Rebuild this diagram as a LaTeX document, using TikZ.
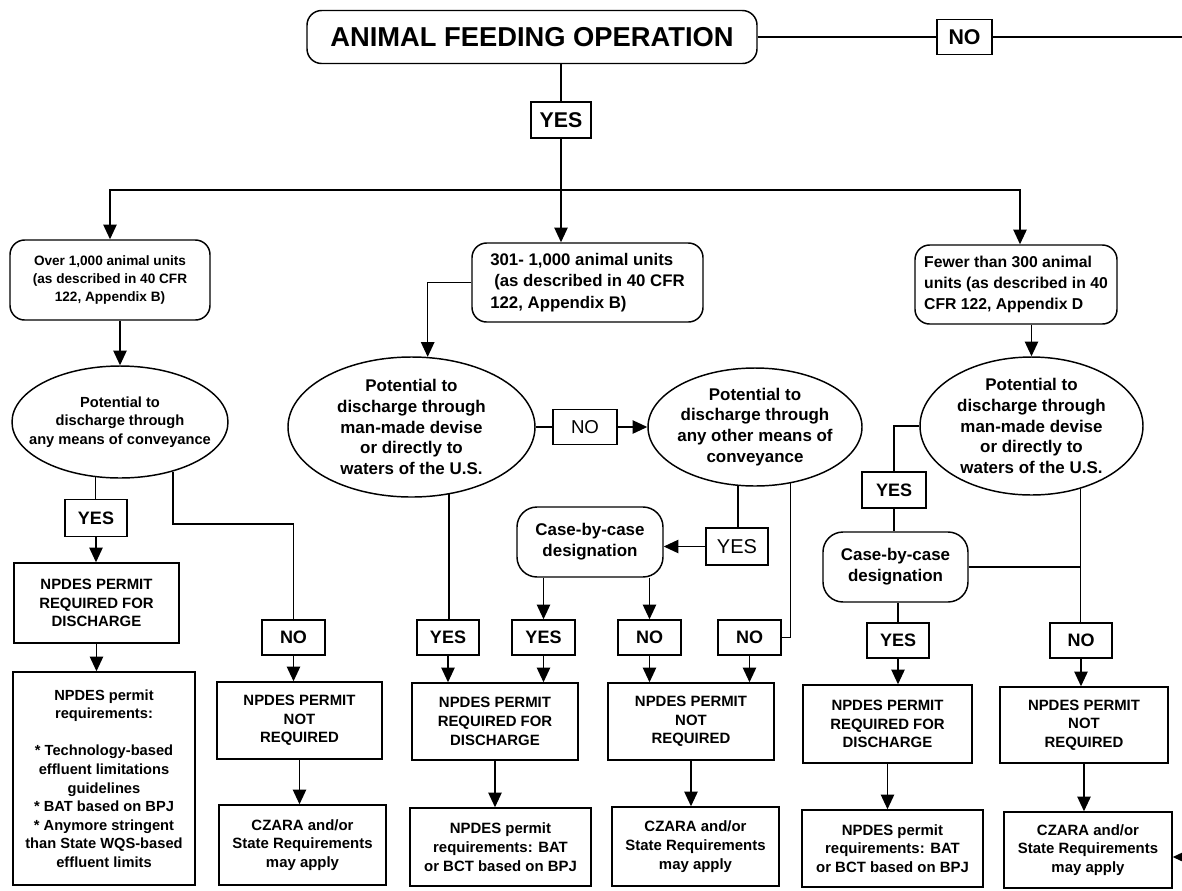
\documentclass[tikz,border=0pt]{standalone}
\usepackage{fontspec}
\setmainfont{Liberation Sans}
\usetikzlibrary{arrows.meta,shapes.geometric}

\tikzset{
  boxsize/.style 2 args={minimum width=#1*0.75pt, minimum height=#2*0.75pt},
  chart/.style={draw, align=center, inner sep=2pt, font=\bfseries\fontsize{11.2}{14}\selectfont},
  bigtext/.style={font=\bfseries\fontsize{12.7}{15.6}\selectfont},
  unitbox/.style={chart, rounded corners=11pt},
  casebox/.style={chart, bigtext, rounded corners=15pt},
  permitbox/.style={chart},
  oval/.style={chart, ellipse, inner xsep=-25pt, inner ysep=-6pt},
  answer/.style={draw, inner sep=0pt, font=\bfseries\fontsize{13.5}{16}\selectfont},
  plainanswer/.style={answer, font=\fontsize{14}{17}\selectfont},
  flow/.style={-{Triangle[length=11pt,width=10pt]}},
}

\begin{document}
\begin{tikzpicture}[x=0.75pt, y=-0.75pt, line width=1.1pt]
        \useasboundingbox (0,0) rectangle (1182,890);

        \node (afo) [unitbox, boxsize={450}{53}, font=\bfseries\fontsize{20.5}{24}\selectfont] at (532,37) {ANIMAL FEEDING OPERATION};
        \node (topno) [answer, boxsize={55}{35}, font=\bfseries\fontsize{16}{19}\selectfont] at (964.5,37) {NO};
        \node (topyes) [answer, boxsize={60}{36}, font=\bfseries\fontsize{16}{19}\selectfont] at (561,120) {YES};
        \coordinate (rimtop) at (1182,37);
        \coordinate (split) at (561,190);

        \node (over) [unitbox, boxsize={200}{80}, font=\bfseries\fontsize{10.2}{13.5}\selectfont] at (110,280) {Over 1,000 animal units\\(as described in 40 CFR\\122, Appendix B)};
        \node (mid) [unitbox, bigtext, boxsize={231}{79}, align=left, font=\bfseries\fontsize{12.6}{16}\selectfont] at (587.5,282.5) {301- 1,000 animal units\\\hspace{3pt}(as described in 40 CFR\\122, Appendix B)};
        \node (fewer) [unitbox, boxsize={202}{79}, align=left, font=\bfseries\fontsize{11.8}{15.5}\selectfont] at (1016,284.5) {Fewer than 300 animal\\units (as described in 40\\CFR 122, Appendix D};

        \node (ell1) [oval, boxsize={216}{112}, font=\bfseries\fontsize{11}{13.7}\selectfont] at (120,422) {Potential to\\discharge through\\any means of conveyance};
        \node (ell2) [oval, bigtext, boxsize={247}{140}] at (411.5,427) {Potential to\\discharge through\\man-made devise\\or directly to\\waters of the U.S.};
        \node (nomid) [plainanswer, boxsize={64}{35}] at (585,427) {NO};
        \node (ell3) [oval, bigtext, boxsize={214}{118}] at (755,427) {Potential to\\discharge through\\any other means of\\conveyance};
        \node (ell4) [oval, bigtext, boxsize={223}{138}] at (1031.5,426) {Potential to\\discharge through\\man-made devise\\or directly to\\waters of the U.S.};

        \node (yes1) [answer, boxsize={62}{37}] at (96,518) {YES};
        \node (req1) [permitbox, boxsize={165}{80}] at (96.5,603) {NPDES PERMIT\\REQUIRED FOR\\DISCHARGE};
        \node (reqs1) [permitbox, boxsize={182}{213}, font=\bfseries\fontsize{11}{13.9}\selectfont] at (104,778.5) {NPDES permit\\requirements:\\[\baselineskip]* Technology-based\\effluent limitations\\guidelines\\* BAT based on BPJ\\* Anymore stringent\\than State WQS-based\\effluent limits};
        \coordinate (bend1) at (293.5,524);
        \node (no1) [answer, boxsize={63}{35}] at (293.5,637.5) {NO};
        \node (notreq1) [permitbox, boxsize={165}{77}] at (299.5,720.5) {NPDES PERMIT\\NOT\\REQUIRED};
        \node (czara1) [permitbox, boxsize={167}{80}] at (302.5,845) {CZARA and/or\\State Requirements\\may apply};

        \node (yes3) [plainanswer, boxsize={62}{37}, font=\fontsize{15}{18}\selectfont] at (737,546.5) {YES};
        \node (case1) [casebox, boxsize={146}{70}] at (590,542) {Case-by-case\\designation};
        \node (yes2) [answer, boxsize={62}{35}] at (448,637.5) {YES};
        \node (yes4) [answer, boxsize={63}{35}] at (543.5,637.5) {YES};
        \node (no4) [answer, boxsize={63}{35}] at (649.5,637.5) {NO};
        \node (no5) [answer, boxsize={63}{35}] at (749.5,637.5) {NO};
        \node (req2) [permitbox, boxsize={166}{77}] at (495,721.5) {NPDES PERMIT\\REQUIRED FOR\\DISCHARGE};
        \node (notreq2) [permitbox, boxsize={166}{77}] at (691,721.5) {NPDES PERMIT\\NOT\\REQUIRED};
        \node (reqs2) [permitbox, boxsize={181}{78}] at (500.5,847) {NPDES permit\\requirements: BAT\\or BCT based on BPJ};
        \node (czara2) [permitbox, boxsize={167}{79}] at (695.5,846.5) {CZARA and/or\\State Requirements\\may apply};

        \node (yes6) [answer, boxsize={64}{36}] at (894,490) {YES};
        \node (case2) [casebox, boxsize={145}{70}] at (895.5,567) {Case-by-case\\designation};
        \node (yes7) [answer, boxsize={62}{35}] at (898,640.5) {YES};
        \node (no7) [answer, boxsize={62}{35}] at (1081,640.5) {NO};
        \node (req3) [permitbox, boxsize={169}{78}] at (887.5,724) {NPDES PERMIT\\REQUIRED FOR\\DISCHARGE};
        \node (notreq3) [permitbox, boxsize={168}{76}] at (1084,725) {NPDES PERMIT\\NOT\\REQUIRED};
        \node (reqs3) [permitbox, boxsize={181}{77}] at (892.5,848.5) {NPDES permit\\requirements: BAT\\or BCT based on BPJ};
        \node (czara3) [permitbox, boxsize={168}{76}] at (1088,850) {CZARA and/or\\State Requirements\\may apply};
        \coordinate (rimlow) at (1182,857);

        \draw (afo.east) -- (topno.west);
        \draw (topno.east) -- (rimtop);
        \draw (topyes.north |- afo.south) -- (topyes.north);
        \draw[flow] (topyes.south) -- (topyes.south |- mid.north);
        \draw[flow] (split) -| (over.north);
        \draw[flow] (split) -| ([xshift=3pt]fewer.north);

        \draw[flow] (ell1.north |- over.south) -- (ell1.north);
        \draw (ell1.-114) -- (ell1.-114 |- yes1.north);
        \draw[flow] (yes1.south) -- (yes1.south |- req1.north);
        \draw[flow] (req1.south) -- (req1.south |- reqs1.north);
        \draw (ell1.-43) |- (bend1) -- (no1.north);
        \draw[flow] (no1.south) -- (no1.south |- notreq1.north);
        \draw[flow] (notreq1.south) -- (notreq1.south |- czara1.north);

        \draw[flow] (mid.west) -| (ell2.77);
        \draw (ell2.east) -- (nomid.west);
        \draw[flow] (nomid.east) -- (ell3.west);
        \draw (ell3.-106) -- (ell3.-106 |- yes3.north);
        \draw[flow] (yes3.west) -- (yes3.west -| case1.east);
        \draw[flow] (yes4.north |- case1.south) -- (yes4.north);
        \draw[flow] (no4.north |- case1.south) -- (no4.north);
        \draw (ell2.-61) -- (ell2.-61 |- yes2.north);
        \draw (ell3.-58) |- (no5.east);
        \draw[flow] (yes2.south) -- (yes2.south |- req2.north);
        \draw[flow] (yes4.south) -- (yes4.south |- req2.north);
        \draw[flow] (no4.south) -- (no4.south |- notreq2.north);
        \draw[flow] (no5.south) -- (no5.south |- notreq2.north);
        \draw[flow] (req2.south) -- (req2.south |- reqs2.north);
        \draw[flow] (notreq2.south) -- (notreq2.south |- czara2.north);

        \draw[flow] (ell4.north |- fewer.south) -- (ell4.north);
        \draw (ell4.west) -| (yes6.north);
        \draw (yes6.south) -- (yes6.south |- case2.north);
        \draw (yes7.north |- case2.south) -- (yes7.north);
        \draw (ell4.-52) -- (ell4.-52 |- no7.north);
        \draw (case2.east) -- (case2.east -| no7.north);
        \draw[flow] (yes7.south) -- (yes7.south |- req3.north);
        \draw[flow] (no7.south) -- (no7.south |- notreq3.north);
        \draw[flow] (req3.south) -- (req3.south |- reqs3.north);
        \draw[flow] (notreq3.south) -- (notreq3.south |- czara3.north);
        \draw[flow] (rimlow) -- (rimlow -| czara3.east);
    \end{tikzpicture}
\end{document}
